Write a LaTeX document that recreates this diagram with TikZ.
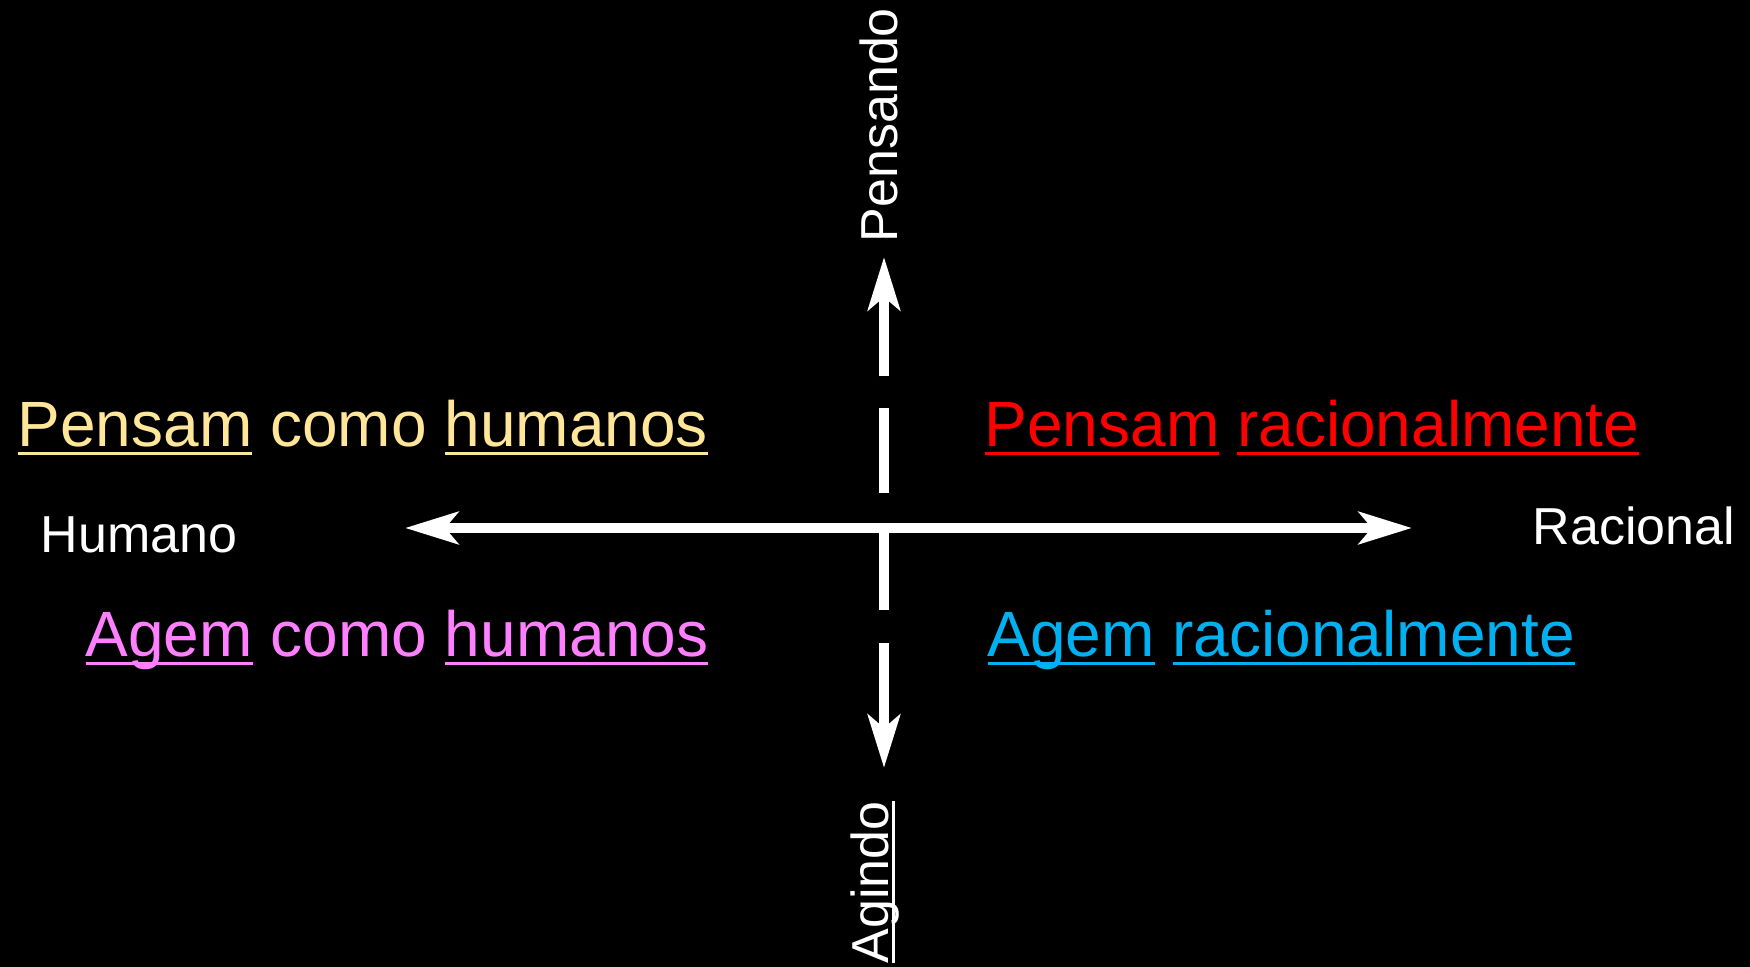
\documentclass[tikz,border=0pt]{standalone}
\usepackage{fontspec}
\setmainfont{Liberation Sans}
\usetikzlibrary{arrows.meta}

\definecolor{amarelo}{RGB}{255,230,153}
\definecolor{rosa}{RGB}{255,128,255}
\definecolor{azul}{RGB}{0,176,240}
\definecolor{vermelho}{RGB}{255,0,0}

\newsavebox{\sublbox}
\newcommand{\sublinha}[1]{\sbox\sublbox{#1}\rlap{\rule[-0.125em]{\wd\sublbox}{0.045em}}\usebox\sublbox}

\tikzset{
  eixo/.style={white,line width=1mm},
  rotulo/.style={white,inner sep=0pt,font=\fontsize{5.2mm}{6mm}\selectfont},
  quadrante/.style={inner sep=0pt,anchor=base west,font=\fontsize{6.4mm}{7.6mm}\selectfont},
  >={Stealth[length=5.3mm,width=3.2mm,inset=1.3mm]}
}

\begin{document}
\begin{tikzpicture}[x=0.1mm,y=-0.1mm]
\useasboundingbox (0,0) rectangle (1750,967);
\fill[black] (0,0) rectangle (1750,967);

% eixos
\coordinate (esq) at (405,528);
\coordinate (dir) at (1412,528);
\coordinate (cima) at (884,257);
\coordinate (baixo) at (884,768);
\draw[eixo,<->,dash pattern=on 8.85mm off 3.3mm on 8.5mm off 3.2mm on 8.5mm off 3.2mm on 9mm off 1mm] (baixo) -- (cima);
\draw[eixo,<->] (esq) -- (dir);

% rotulos dos eixos
\node[rotulo,anchor=base west] (humano) at (40,553) {Humano};
\node[rotulo,anchor=base west] (racional) at (1532,545) {Racional};
\node[rotulo,anchor=base west,rotate=90] (pensando) at (897,243) {Pensando};
\node[rotulo,anchor=base west,rotate=90] (agindo) at (888,964) {\sublinha{Agindo}};

% quadrantes
\node[quadrante,amarelo] (pch) at (17,447) {\sublinha{Pensam} como \sublinha{humanos}};
\node[quadrante,vermelho] (pr) at (984,447) {\sublinha{Pensam} \sublinha{racionalmente}};
\node[quadrante,rosa] (ach) at (85,657) {\sublinha{Agem} como \sublinha{humanos}};
\node[quadrante,azul] (ar) at (987,657) {\sublinha{Agem} \sublinha{racionalmente}};
\end{tikzpicture}
\end{document}
